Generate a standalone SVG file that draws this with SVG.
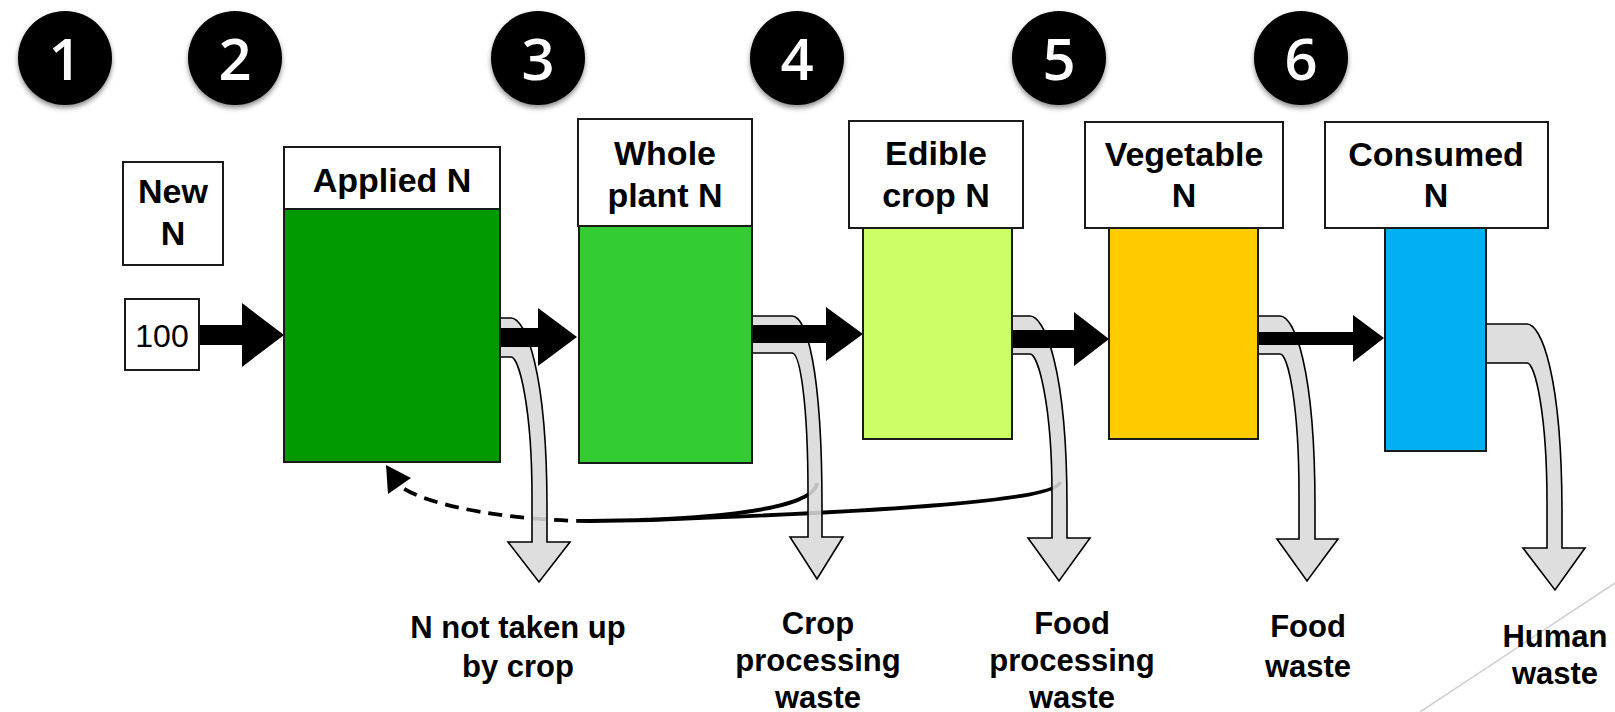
<svg xmlns="http://www.w3.org/2000/svg" width="1615" height="712" viewBox="0 0 1615 712">
<style>
.lbl{fill:#fff;stroke:#1a1a1a;stroke-width:2}
.bar{stroke:#1a1a1a;stroke-width:2}
.t{font-family:"Liberation Sans",Arial,sans-serif;font-weight:bold;font-size:34px;fill:#000;text-anchor:middle}
.b{font-family:"Liberation Sans",Arial,sans-serif;font-weight:bold;font-size:31px;fill:#000;text-anchor:middle}
.num{font-family:"Open Sans","Liberation Sans",sans-serif;font-weight:600;font-size:58px;fill:#fff;text-anchor:middle}
.grey{fill:#d9d9d9;fill-opacity:0.88;stroke:#000;stroke-width:1.6;stroke-linejoin:miter}
.blk{fill:#000}
.fb{fill:none;stroke:#000;stroke-width:3.8}
</style>
<defs>
<filter id="sh" x="-30%" y="-30%" width="160%" height="170%">
<feDropShadow dx="0" dy="3" stdDeviation="2.5" flood-color="#000" flood-opacity="0.45"/>
</filter>
</defs>
<line x1="1420" y1="712" x2="1615" y2="583" stroke="#cfcfcf" stroke-width="1.5"/>
<g id="steps">
<g id="step1"><circle cx="65" cy="58" r="47" fill="#000" filter="url(#sh)"/><text class="num" x="65" y="80">1</text></g>
<g id="step2"><circle cx="235" cy="58" r="47" fill="#000" filter="url(#sh)"/><text class="num" x="235" y="80">2</text></g>
<g id="step3"><circle cx="538" cy="58" r="47" fill="#000" filter="url(#sh)"/><text class="num" x="538" y="80">3</text></g>
<g id="step4"><circle cx="797" cy="58" r="47" fill="#000" filter="url(#sh)"/><text class="num" x="797" y="80">4</text></g>
<g id="step5"><circle cx="1059" cy="58" r="47" fill="#000" filter="url(#sh)"/><text class="num" x="1059" y="80">5</text></g>
<g id="step6"><circle cx="1301" cy="58" r="47" fill="#000" filter="url(#sh)"/><text class="num" x="1301" y="80">6</text></g>
</g>
<g id="connectors">
<path class="fb" d="M1060,482 C1057,500 900,511 650,520 L590,521"/>
<path class="fb" d="M817,483 C815,502 760,516 640,520"/>
<path class="fb" stroke-dasharray="14 8" d="M590,521 C520,521 430,508 400,486"/>
<polygon points="386,465 388,494 411,478" fill="#000"/>
<path class="grey" d="M500,318 H511 C525,318 547,368 547,508 V542 H570 L539,582 L508,542 H532 V497 C532,407 519,357 511,357 H500 Z"/>
<path class="grey" d="M752,316 H792 C806,316 822,366 822,506 V537 H843 L817,579 L790,537 H808 V493 C808,403 800,353 792,353 H752 Z"/>
<path class="grey" d="M1012,316 H1030 C1044,316 1067,366 1067,506 V538 H1090 L1059,581 L1028,538 H1052 V494 C1052,404 1038,354 1030,354 H1012 Z"/>
<path class="grey" d="M1258,316 H1280 C1294,316 1315,366 1315,506 V539 H1338 L1307,581 L1277,539 H1299 V494 C1299,404 1288,354 1280,354 H1258 Z"/>
<path class="grey" d="M1486,324 H1527 C1541,324 1562,374 1562,514 V548 H1585 L1555,590 L1523,548 H1547 V503 C1547,413 1535,363 1527,363 H1486 Z"/>
<path class="blk" d="M199,325 H242 V303 L284,335 L242,367 V345 H199 Z"/>
<path class="blk" d="M500,328 H538 V308 L577,337 L538,366 V347 H500 Z"/>
<path class="blk" d="M752,325 H826 V307 L863,334 L826,361 V343 H752 Z"/>
<path class="blk" d="M1012,330 H1074 V312 L1109,339 L1074,366 V348 H1012 Z"/>
<path class="blk" d="M1258,332 H1353 V315 L1384,338 L1353,362 V345 H1258 Z"/>
</g>
<g id="new-n">
<rect class="lbl" x="123" y="162" width="100" height="103"/>
<text class="t" x="173" y="203">New</text>
<text class="t" x="173" y="245">N</text>
</g>
<g id="input-100">
<rect class="lbl" x="125" y="299" width="74" height="71"/>
<text x="162" y="347" font-family="Liberation Sans, Arial, sans-serif" font-size="32" text-anchor="middle">100</text>
</g>
<g id="applied-n">
<rect class="bar" x="284" y="209" width="216" height="253" fill="#009900"/>
<rect class="lbl" x="284" y="147" width="216" height="62"/>
<text class="t" x="392" y="192">Applied N</text>
</g>
<g id="whole-plant-n">
<rect class="bar" x="579" y="226" width="173" height="237" fill="#33cc33"/>
<rect class="lbl" x="578" y="119" width="174" height="107"/>
<text class="t" x="665" y="165">Whole</text>
<text class="t" x="665" y="207">plant N</text>
</g>
<g id="edible-crop-n">
<rect class="bar" x="863" y="228" width="149" height="211" fill="#ccff66"/>
<rect class="lbl" x="849" y="121" width="174" height="107"/>
<text class="t" x="936" y="165">Edible</text>
<text class="t" x="936" y="207">crop N</text>
</g>
<g id="vegetable-n">
<rect class="bar" x="1109" y="228" width="149" height="211" fill="#ffcc00"/>
<rect class="lbl" x="1085" y="122" width="198" height="106"/>
<text class="t" x="1184" y="166">Vegetable</text>
<text class="t" x="1184" y="207">N</text>
</g>
<g id="consumed-n">
<rect class="bar" x="1385" y="228" width="101" height="223" fill="#00b0f0"/>
<rect class="lbl" x="1325" y="122" width="223" height="106"/>
<text class="t" x="1436" y="166">Consumed</text>
<text class="t" x="1436" y="207">N</text>
</g>
<g id="out-not-taken">
<text class="b" x="518" y="638">N not taken up</text>
<text class="b" x="518" y="677">by crop</text>
</g>
<g id="out-crop-processing">
<text class="b" x="818" y="634">Crop</text>
<text class="b" x="818" y="671">processing</text>
<text class="b" x="818" y="708">waste</text>
</g>
<g id="out-food-processing">
<text class="b" x="1072" y="634">Food</text>
<text class="b" x="1072" y="671">processing</text>
<text class="b" x="1072" y="708">waste</text>
</g>
<g id="out-food-waste">
<text class="b" x="1308" y="637">Food</text>
<text class="b" x="1308" y="677">waste</text>
</g>
<g id="out-human-waste">
<text class="b" x="1555" y="647">Human</text>
<text class="b" x="1555" y="684">waste</text>
</g>
</svg>
